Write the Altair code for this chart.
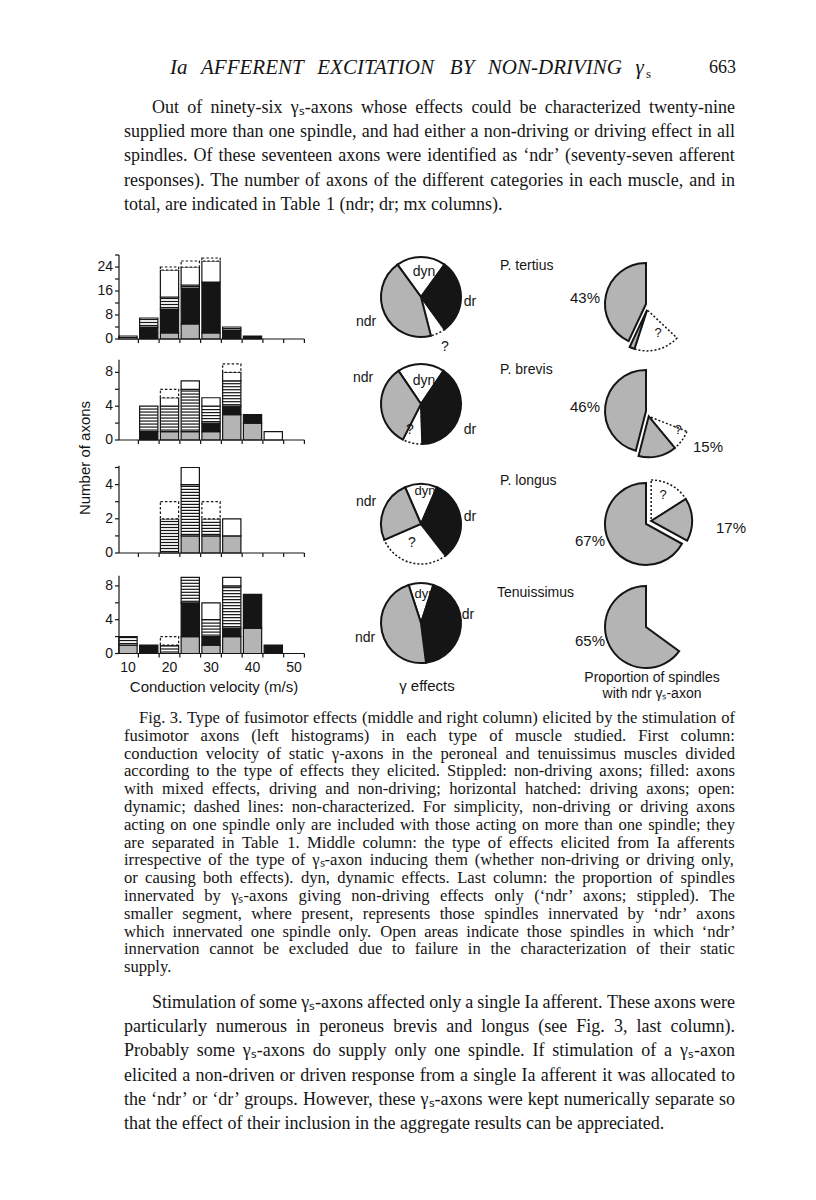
import math
import numpy as np
import pandas as pd
import altair as alt

# ---------------- page geometry ----------------
M = 8
W, H = 816 - 2 * M, 1200 - 2 * M
SERIF = "Liberation Serif"
SANS = "Liberation Sans"
INK = "#151515"
GRAY = "#b4b4b4"


def P(v):
    return v - M


# ---------------- text ----------------
header_words = ["Ia", "AFFERENT", "EXCITATION", "BY", "NON-DRIVING", "γ"]
header_sub = "s"
page_number = "663"

para1 = [
    "Out of ninety-six γₛ-axons whose effects could be characterized twenty-nine",
    "supplied more than one spindle, and had either a non-driving or driving effect in all",
    "spindles. Of these seventeen axons were identified as ‘ndr’ (seventy-seven afferent",
    "responses). The number of axons of the different categories in each muscle, and in",
    "total, are indicated in Table 1 (ndr; dr; mx columns).",
]

caption = [
    "Fig. 3. Type of fusimotor effects (middle and right column) elicited by the stimulation of",
    "fusimotor axons (left histograms) in each type of muscle studied. First column:",
    "conduction velocity of static γ-axons in the peroneal and tenuissimus muscles divided",
    "according to the type of effects they elicited. Stippled: non-driving axons; filled: axons",
    "with mixed effects, driving and non-driving; horizontal hatched: driving axons; open:",
    "dynamic; dashed lines: non-characterized. For simplicity, non-driving or driving axons",
    "acting on one spindle only are included with those acting on more than one spindle; they",
    "are separated in Table 1. Middle column: the type of effects elicited from Ia afferents",
    "irrespective of the type of γₛ-axon inducing them (whether non-driving or driving only,",
    "or causing both effects). dyn, dynamic effects. Last column: the proportion of spindles",
    "innervated by γₛ-axons giving non-driving effects only (‘ndr’ axons; stippled). The",
    "smaller segment, where present, represents those spindles innervated by ‘ndr’ axons",
    "which innervated one spindle only. Open areas indicate those spindles in which ‘ndr’",
    "innervation cannot be excluded due to failure in the characterization of their static",
    "supply.",
]

para2 = [
    "Stimulation of some γₛ-axons affected only a single Ia afferent. These axons were",
    "particularly numerous in peroneus brevis and longus (see Fig. 3, last column).",
    "Probably some γₛ-axons do supply only one spindle. If stimulation of a γₛ-axon",
    "elicited a non-driven or driven response from a single Ia afferent it was allocated to",
    "the ‘ndr’ or ‘dr’ groups. However, these γₛ-axons were kept numerically separate so",
    "that the effect of their inclusion in the aggregate results can be appreciated.",
]

# ---------------- histogram data (number of axons per 5 m/s bin) ----------------
velocity_bins = [10, 15, 20, 25, 30, 35, 40, 45]
axon_types = ["non-driving", "mixed", "driving", "dynamic", "non-characterized"]

tertius_counts = {
    "non-driving":       [0, 0, 2, 5, 2, 0, 0, 0],
    "mixed":             [0, 4, 8, 12, 17, 3, 1, 0],
    "driving":           [1, 3, 4, 1, 0, 1, 0, 0],
    "dynamic":           [0, 0, 9, 6, 7, 0, 0, 0],
    "non-characterized": [0, 0, 1, 2, 1, 0, 0, 0],
}
brevis_counts = {
    "non-driving":       [0, 0, 1, 1, 1, 3, 2, 0],
    "mixed":             [0, 1, 0, 0, 1, 1, 1, 0],
    "driving":           [0, 3, 3, 5, 2, 3, 0, 0],
    "dynamic":           [0, 0, 1, 1, 1, 1, 0, 1],
    "non-characterized": [0, 0, 1, 0, 0, 1, 0, 0],
}
longus_counts = {
    "non-driving":       [0, 0, 0, 1, 1, 1, 0, 0],
    "mixed":             [0, 0, 0, 0, 0, 0, 0, 0],
    "driving":           [0, 0, 2, 3, 1, 0, 0, 0],
    "dynamic":           [0, 0, 0, 1, 0, 1, 0, 0],
    "non-characterized": [0, 0, 1, 0, 1, 0, 0, 0],
}
tenuissimus_counts = {
    "non-driving":       [1, 0, 0, 2, 1, 2, 3, 0],
    "mixed":             [0, 1, 0, 4, 1, 1, 4, 1],
    "driving":           [1, 0, 1, 3, 2, 5, 0, 0],
    "dynamic":           [0, 0, 0, 0, 2, 1, 0, 0],
    "non-characterized": [0, 0, 1, 0, 0, 0, 0, 0],
}
velocity_tick_labels = [10, 20, 30, 40, 50]

# ---------------- middle column: gamma effects (% of afferent responses) ----------------
muscles = ["P. tertius", "P. brevis", "P. longus", "Tenuissimus"]
effect_order = ["dyn", "dr", "?", "ndr"]
effect_dyn = [20, 19, 13, 10]
effect_dr = [30, 40, 33, 43]
effect_unknown = [6, 8, 29, 0]
effect_ndr = [44, 33, 25, 47]

# ---------------- right column: proportion of spindles with ndr axon (%) ----------------
ndr_multi = [43, 46, 67, 65]
ndr_single = [2, 15, 17, 0]
ndr_open = [18, 8, 16, 0]
ndr_multi_labels = ["43%", "46%", "67%", "65%"]
ndr_single_labels = ["", "15%", "17%", ""]

# ================= text metrics (Liberation Serif = Times metrics) =================
ROMAN = {' ': 250, '!': 333, '(': 333, ')': 333, ',': 250, '-': 333, '.': 250, '/': 278,
         ':': 278, ';': 278, '?': 444, '%': 833, '‘': 333, '’': 333, 'γ': 450, 'ₛ': 330}
for ch in "0123456789":
    ROMAN[ch] = 500
for ch, w in zip("ABCDEFGHIJKLMNOPQRSTUVWXYZ",
                 [722, 667, 667, 722, 611, 556, 722, 722, 333, 389, 722, 611, 889, 722, 722,
                  556, 722, 667, 556, 611, 722, 722, 944, 722, 722, 611]):
    ROMAN[ch] = w
for ch, w in zip("abcdefghijklmnopqrstuvwxyz",
                 [444, 500, 444, 500, 444, 333, 500, 500, 278, 278, 500, 278, 778, 500, 500,
                  500, 500, 333, 389, 278, 500, 500, 722, 500, 500, 444]):
    ROMAN[ch] = w
ITALIC = {' ': 250, '-': 333, 'a': 500, 'γ': 450}
for ch, w in zip("ABCDEFGHIJKLMNOPQRSTUVWXYZ",
                 [611, 611, 667, 722, 611, 611, 722, 722, 333, 444, 667, 556, 833, 667, 722,
                  611, 722, 611, 500, 556, 722, 611, 833, 611, 556, 556]):
    ITALIC[ch] = w


def word_width(w, size, table):
    return sum(table.get(c, 500) for c in w) * size / 1000.0


def layout_words(lines, x_left, x_right, size, first_indent=0, table=ROMAN, ragged_last=True):
    rows = []
    for i, line in enumerate(lines):
        words = line.split(" ")
        x0 = x_left + (first_indent if i == 0 else 0)
        widths = [word_width(w, size, table) for w in words]
        gap = table[' '] * size / 1000.0
        last = (i == len(lines) - 1) and ragged_last
        if not last and len(words) > 1:
            gap = max(gap * 0.6, (x_right - x0 - sum(widths)) / (len(words) - 1))
        x = x0
        for w, wd in zip(words, widths):
            rows.append({"line": i, "word": w, "x": P(x)})
            x += wd + gap
    return pd.DataFrame(rows)


# ================= build layers =================
layers = []
PIX = alt.Scale(domain=[0, W], range=[0, W], nice=False, zero=False)


def add_label(text, x, y, size=14, font=SANS, align="center", style="normal",
              angle=None, baseline="middle"):
    kw = dict(align=align, baseline=baseline, font=font, fontSize=size,
              fontStyle=style, color=INK)
    if angle is not None:
        kw["angle"] = angle
    layers.append(
        alt.Chart(pd.DataFrame({"t": [text]}))
        .mark_text(**kw)
        .encode(x=alt.value(P(x)), y=alt.value(P(y)), text="t:N")
    )


def add_block(lines, x_left, x_right, y_first, spacing, size, first_indent=0,
              table=ROMAN, style="normal", ragged_last=True):
    df = layout_words(lines, x_left, x_right, size, first_indent, table, ragged_last)
    y0 = P(y_first)
    layers.append(
        alt.Chart(df)
        .mark_text(align="left", baseline="middle", font=SERIF, fontSize=size,
                   fontStyle=style, color=INK)
        .encode(
            x=alt.X("x:Q", scale=PIX, axis=None),
            y=alt.Y("line:Q", scale=alt.Scale(domain=[0, 1], range=[y0, y0 + spacing],
                                              nice=False, zero=False), axis=None),
            text="word:N",
        )
    )


# ---- running head ----
add_block([" ".join(header_words)], 170, 645, 68, 20, 21, table=ITALIC, style="italic",
          ragged_last=False)
add_label(header_sub, 646, 74, size=13, font=SERIF, align="left")
add_label(page_number, 736, 68, size=18, font=SERIF, align="right")

# ---- paragraphs ----
add_block(para1, 124, 735, 108, 24.2, 18, first_indent=28)
add_block(caption, 124, 735, 718, 17.8, 16.6, first_indent=15)
add_block(para2, 124, 735, 1003, 24.2, 18, first_indent=28)

# ---- histograms ----
X_DOMAIN = [7.83, 52.5]
X_RANGE = [P(119), P(304.4)]
X_PPU = (X_RANGE[1] - X_RANGE[0]) / (X_DOMAIN[1] - X_DOMAIN[0])
BAR_HALF = 2.2
bin_edges = [12.5 + 5 * k for k in range(9)]


def histogram(counts, zero_y, ppu, y_top, tick_step, label_step, with_labels):
    rows = []
    for order, kind in enumerate(axon_types):
        for b, n in zip(velocity_bins, counts[kind]):
            rows.append({"bin": b, "kind": kind, "order": order, "n": n})
    df = pd.DataFrame(rows)
    yz = P(zero_y)
    xs = alt.Scale(domain=X_DOMAIN, range=X_RANGE, nice=False, zero=False)
    ys = alt.Scale(domain=[0, y_top], range=[yz, yz - y_top * ppu], nice=False, zero=False)
    step = 3.0 / ppu
    xmin, xmax = X_DOMAIN
    tdx = 4.0 / X_PPU
    tdy = 4.0 / ppu

    base = (
        alt.Chart(df)
        .transform_stack(stack="n", groupby=["bin"], as_=["y0", "y1"],
                         sort=[alt.SortField("order", order="ascending")])
        .transform_filter("datum.n > 0")
        .transform_calculate(x0=f"datum.bin - {BAR_HALF}", x1=f"datum.bin + {BAR_HALF}")
    )
    solid = base.transform_filter("datum.kind !== 'non-characterized'").mark_rect(
        stroke=INK, strokeWidth=1.2
    ).encode(
        x=alt.X("x0:Q", scale=xs, axis=None), x2="x1:Q",
        y=alt.Y("y0:Q", scale=ys, axis=None), y2="y1:Q",
        fill=alt.Fill("kind:N", scale=alt.Scale(domain=axon_types,
                      range=[GRAY, INK, "white", "white", "white"]), legend=None),
    )
    dashed = base.transform_filter("datum.kind === 'non-characterized'").mark_rect(
        fill="white", stroke=INK, strokeWidth=1.2, strokeDash=[2.5, 2]
    ).encode(
        x=alt.X("x0:Q", scale=xs, axis=None), x2="x1:Q",
        y=alt.Y("y0:Q", scale=ys, axis=None), y2="y1:Q",
    )
    hatch = (
        base.transform_filter("datum.kind === 'driving'")
        .transform_calculate(hy=f"sequence(datum.y0 + {step / 2}, datum.y1 - {step / 4}, {step})")
        .transform_flatten(["hy"])
        .mark_rule(color=INK, strokeWidth=1.2)
        .encode(x=alt.X("x0:Q", scale=xs, axis=None), x2="x1:Q",
                y=alt.Y("hy:Q", scale=ys, axis=None))
    )

    # axes drawn through the panel's own scales
    yt = pd.DataFrame({"v": [float(v) for v in np.arange(0, y_top + 1e-6, tick_step)]})
    frame = pd.DataFrame({"a": [0.0], "b": [float(y_top)]})
    y_line = alt.Chart(frame).transform_calculate(c=f"{xmin}").mark_rule(
        color=INK, strokeWidth=1.2).encode(
        x=alt.X("c:Q", scale=xs, axis=None), y=alt.Y("a:Q", scale=ys, axis=None), y2="b:Q")
    x_line = alt.Chart(frame).transform_calculate(c=f"{xmin}", d=f"{xmax}").mark_rule(
        color=INK, strokeWidth=1.2).encode(
        x=alt.X("c:Q", scale=xs, axis=None), x2="d:Q", y=alt.Y("a:Q", scale=ys, axis=None))
    y_ticks = alt.Chart(yt).transform_calculate(xa=f"{xmin}", xb=f"{xmin - tdx}").mark_rule(
        color=INK, strokeWidth=1.2).encode(
        x=alt.X("xa:Q", scale=xs, axis=None), x2="xb:Q", y=alt.Y("v:Q", scale=ys, axis=None))
    y_labels = (alt.Chart(yt).transform_filter(f"datum.v % {label_step} === 0")
                .transform_calculate(xa=f"{xmin}")
                .mark_text(align="right", baseline="middle", dx=-6, font=SANS, fontSize=14,
                           color=INK)
                .encode(x=alt.X("xa:Q", scale=xs, axis=None),
                        y=alt.Y("v:Q", scale=ys, axis=None),
                        text=alt.Text("v:Q", format="d")))
    x_ticks = (alt.Chart(pd.DataFrame({"v": bin_edges}))
               .transform_calculate(ya="0", yb=f"{-tdy}")
               .mark_rule(color=INK, strokeWidth=1.2)
               .encode(x=alt.X("v:Q", scale=xs, axis=None),
                       y=alt.Y("ya:Q", scale=ys, axis=None), y2="yb:Q"))
    parts = [solid, dashed, hatch, y_line, x_line, y_ticks, y_labels, x_ticks]
    if with_labels:
        parts.append(
            alt.Chart(pd.DataFrame({"v": velocity_tick_labels}))
            .transform_calculate(ya="0")
            .mark_text(align="center", baseline="middle", dy=14, font=SANS, fontSize=14,
                       color=INK)
            .encode(x=alt.X("v:Q", scale=xs, axis=None),
                    y=alt.Y("ya:Q", scale=ys, axis=None),
                    text=alt.Text("v:Q", format="d"))
        )
    layers.append(alt.layer(*parts))


histogram(tertius_counts, 339, 3.0, 28, 4, 8, False)
histogram(brevis_counts, 440, 8.45, 9.5, 2, 4, False)
histogram(longus_counts, 553, 17.1, 5.1, 1, 2, False)
histogram(tenuissimus_counts, 653.5, 8.45, 9.2, 2, 4, True)

add_label("Number of axons", 85, 458, size=15, angle=270)
add_label("Conduction velocity (m/s)", 214, 687, size=15)

# ---- middle pies ----
THETA = alt.Scale(domain=[0, 100], range=[0, 2 * math.pi], zero=False, nice=False)
shares = {"dyn": effect_dyn, "dr": effect_dr, "?": effect_unknown, "ndr": effect_ndr}
mid_rows = []
for k, m in enumerate(muscles):
    start = -effect_dyn[k] / 2
    for e in effect_order:
        s = shares[e][k]
        if s > 0:
            mid_rows.append({"muscle": m, "effect": e, "t0": start, "t1": start + s})
        start += s
mid_df = pd.DataFrame(mid_rows)

MID_C = [(421, 297), (421, 404), (421, 524), (421, 623)]
MID_R = 40
for k, m in enumerate(muscles):
    cx, cy = MID_C[k]
    sub = mid_df[mid_df.muscle == m]
    unk = sub[sub.effect == "?"]
    if len(unk):
        layers.append(
            alt.Chart(unk).mark_arc(outerRadius=MID_R, fill="white", stroke=INK,
                                    strokeWidth=1.5, strokeDash=[2, 2])
            .encode(theta=alt.Theta("t0:Q", scale=THETA), theta2=alt.Theta2("t1"),
                    x=alt.value(P(cx)), y=alt.value(P(cy)))
        )
    layers.append(
        alt.Chart(sub[sub.effect != "?"]).mark_arc(outerRadius=MID_R, stroke=INK, strokeWidth=2)
        .encode(theta=alt.Theta("t0:Q", scale=THETA), theta2=alt.Theta2("t1"),
                x=alt.value(P(cx)), y=alt.value(P(cy)),
                fill=alt.Fill("effect:N", scale=alt.Scale(domain=effect_order,
                              range=["white", INK, "white", GRAY]), legend=None))
    )

mid_labels = [
    ("dyn", 424, 272, 14), ("dr", 470, 302, 14), ("ndr", 366, 322, 14), ("?", 445, 347, 14),
    ("dyn", 424, 381, 14), ("ndr", 363, 378, 14), ("dr", 470, 430, 14), ("?", 410, 430, 14),
    ("dyn", 425, 491, 13), ("ndr", 366, 502, 14), ("dr", 470, 517, 14), ("?", 412, 543, 14),
    ("dyn", 425, 594, 13), ("dr", 468, 615, 14), ("ndr", 365, 638, 14),
]
for t, x, y, s in mid_labels:
    add_label(t, x, y, size=s)
add_label("γ effects", 427, 686, size=15)

# ---- right pies ----
right_rows = []
for k, m in enumerate(muscles):
    b, s, o = ndr_multi[k], ndr_single[k], ndr_open[k]
    right_rows.append({"muscle": m, "part": "multi", "t0": 100 - b, "t1": 100})
    if s > 0:
        right_rows.append({"muscle": m, "part": "single", "t0": 100 - b - s, "t1": 100 - b})
    if o > 0:
        right_rows.append({"muscle": m, "part": "open", "t0": 100 - b - s - o, "t1": 100 - b - s})
right_df = pd.DataFrame(right_rows)

RIGHT_C = [(646, 304), (646, 411), (646, 524), (646, 627)]
RIGHT_R = 41
EXPLODE = 6
for k, m in enumerate(muscles):
    cx, cy = RIGHT_C[k]
    sub = right_df[right_df.muscle == m]
    rest = sub[sub.part != "multi"]
    if len(rest):
        mid_angle = (rest.t0.min() + rest.t1.max()) / 2 / 100 * 2 * math.pi
        ex, ey = cx + EXPLODE * math.sin(mid_angle), cy - EXPLODE * math.cos(mid_angle)
        op = rest[rest.part == "open"]
        if len(op):
            layers.append(
                alt.Chart(op).mark_arc(outerRadius=RIGHT_R, fill="white", stroke=INK,
                                       strokeWidth=1.5, strokeDash=[2, 2])
                .encode(theta=alt.Theta("t0:Q", scale=THETA), theta2=alt.Theta2("t1"),
                        x=alt.value(P(ex)), y=alt.value(P(ey)))
            )
        sg = rest[rest.part == "single"]
        if len(sg):
            layers.append(
                alt.Chart(sg).mark_arc(outerRadius=RIGHT_R, fill=GRAY, stroke=INK, strokeWidth=2)
                .encode(theta=alt.Theta("t0:Q", scale=THETA), theta2=alt.Theta2("t1"),
                        x=alt.value(P(ex)), y=alt.value(P(ey)))
            )
    layers.append(
        alt.Chart(sub[sub.part == "multi"]).mark_arc(outerRadius=RIGHT_R, fill=GRAY,
                                                      stroke=INK, strokeWidth=2)
        .encode(theta=alt.Theta("t0:Q", scale=THETA), theta2=alt.Theta2("t1"),
                x=alt.value(P(cx)), y=alt.value(P(cy)))
    )

muscle_label_pos = [(500, 266), (500, 370), (500, 481), (497, 593)]
for m, (x, y) in zip(muscles, muscle_label_pos):
    add_label(m, x, y, size=14, align="left")
multi_pos = [(585, 298), (585, 407), (590, 541), (590, 641)]
for t, (x, y) in zip(ndr_multi_labels, multi_pos):
    add_label(t, x, y, size=15)
single_pos = [None, (708, 447), (731, 528), None]
for t, pos in zip(ndr_single_labels, single_pos):
    if t:
        add_label(t, pos[0], pos[1], size=15)
for x, y in [(658, 333), (678, 430), (663, 495)]:
    add_label("?", x, y, size=13)
add_label("Proportion of spindles", 652, 678, size=14)
add_label("with ndr γₛ-axon", 652, 694, size=14)

chart = (
    alt.layer(*layers)
    .resolve_scale(x="independent", y="independent", theta="independent", fill="independent")
    .properties(width=W, height=H, padding=0,
                autosize=alt.AutoSizeParams(type="none"), background="white")
    .configure_view(stroke=None)
)
chart.save("out.html", embed_options={"renderer": "svg", "actions": False})
